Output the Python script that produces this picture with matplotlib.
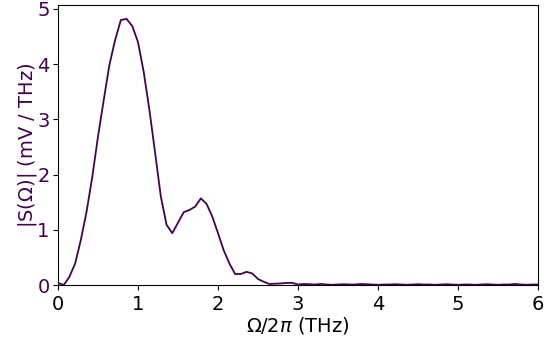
import numpy as np
import matplotlib
matplotlib.use("Agg")
import matplotlib.pyplot as plt

# spectrum amplitude |S(Omega)| in mV/THz, sampled every ~0.0714 THz
amp = [0.04, 0.00, 0.15, 0.39, 0.82, 1.33, 1.96, 2.69, 3.35, 3.99,
       4.44, 4.80, 4.82, 4.69, 4.40, 3.86, 3.17, 2.39, 1.60, 1.09,
       0.94, 1.13, 1.32, 1.36, 1.42, 1.57, 1.47, 1.24, 0.94, 0.63,
       0.39, 0.20, 0.20, 0.24, 0.21, 0.11, 0.06, 0.02, 0.025, 0.03,
       0.04, 0.04, 0.01, 0.02, 0.015, 0.01, 0.02, 0.01, 0.005, 0.01,
       0.015, 0.01, 0.01, 0.02, 0.015, 0.01, 0.005, 0.01, 0.01, 0.015,
       0.01, 0.005, 0.01, 0.015, 0.01, 0.01, 0.005, 0.01, 0.015, 0.01,
       0.005, 0.01, 0.01, 0.005, 0.01, 0.015, 0.01, 0.005, 0.01, 0.01,
       0.02, 0.01, 0.005, 0.01, 0.01]
freq = np.arange(len(amp)) * (6.0 / 84)

col = "#440154"

fig = plt.figure(figsize=(5.54, 3.41), dpi=100)
ax = fig.add_axes([0.1047, 0.164, 0.8664, 0.821])
ax.plot(freq, amp, color=col, lw=1.3)
ax.set_xlim(0, 6)
ax.set_ylim(0, 5.07)
ax.set_xlabel(r"$\Omega/2\pi$ (THz)", fontsize=14, labelpad=1)
ax.set_ylabel(r"|S($\Omega$)| (mV / THz)", fontsize=14, color=col, labelpad=-1)
ax.tick_params(axis="x", labelsize=14)
ax.tick_params(axis="y", labelsize=14, labelcolor=col, pad=2.5)
fig.savefig("out.png", dpi=100)
